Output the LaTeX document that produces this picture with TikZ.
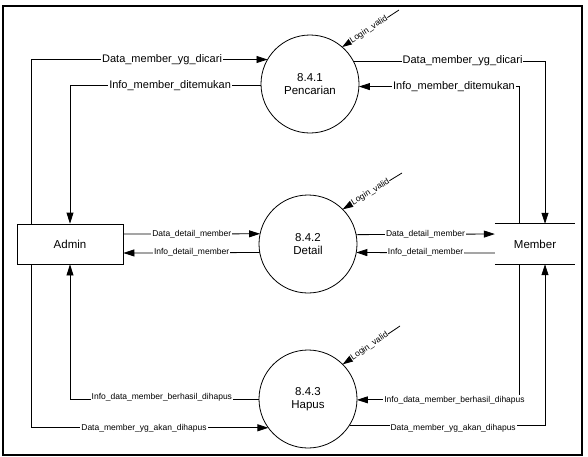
\documentclass[tikz,border=0pt]{standalone}
\usepackage{fontspec}
\setmainfont{Liberation Sans}
\usetikzlibrary{arrows.meta}

\tikzset{
  entity/.style={draw,line width=0.8pt,minimum width=106pt,minimum height=40pt,
    font=\fontsize{11.5}{13}\selectfont},
  store/.style={minimum width=80pt,minimum height=40pt,
    font=\fontsize{11.5}{13}\selectfont},
  proc/.style={circle,draw,line width=0.8pt,minimum size=98pt,inner sep=0pt,
    outer sep=0pt,align=center,font=\fontsize{11.5}{13.5}\selectfont},
  flow/.style={line width=0.8pt,-{Triangle[length=11pt,width=7pt]}},
  lbig/.style={fill=white,inner sep=1pt,font=\fontsize{11}{12}\selectfont},
  lsmall/.style={fill=white,inner sep=1pt,font=\fontsize{8.5}{10}\selectfont},
  llogin/.style={fill=white,inner sep=0.5pt,sloped,font=\fontsize{8.5}{10}\selectfont}
}

\begin{document}
\begin{tikzpicture}[x=1pt,y=-1pt]
\useasboundingbox (0,0) rectangle (588,456);
\draw[line width=1.5pt] (3,6) rectangle (582,455);

\node[entity] (admin) at (70,244) {Admin};
\node[store] (member) at (535,244) {Member};
\draw[line width=0.8pt] (member.north west) -- (member.north east)
  (member.south west) -- (member.south east);

\node[proc] (p1) at (310,84) {8.4.1\\Pencarian};
\node[proc] (p2) at (308,244) {8.4.2\\Detail};
\node[proc] (p3) at (308,399) {8.4.3\\Hapus};

% Login_valid
\coordinate (l1) at (399,10);
\coordinate (l2) at (402,173);
\coordinate (l3) at (400,326);
\draw[flow] (l1) -- node[llogin,pos=0.53] {Login\_valid} (p1.49.5);
\draw[flow] (l2) -- node[llogin,pos=0.53] {Login\_valid} (p2.45);
\draw[flow] (l3) -- node[llogin,pos=0.53] {Login\_valid} (p3.45);

% 8.4.1 Pencarian
\draw[flow] ([xshift=-39pt]admin.north) |- node[lbig,pos=0.777] {Data\_member\_yg\_dicari} (p1.150.7);
\draw[flow] (p1.182.3) -| node[lbig,pos=0.238] {Info\_member\_ditemukan} (admin.north);
\draw[flow] (p1.28) -| node[lbig,pos=0.285] {Data\_member\_yg\_dicari} ([xshift=10pt]member.north);
\draw[flow] ([xshift=-16pt]member.north) |- node[lbig,pos=0.703] {Info\_member\_ditemukan} (p1.357.7);

% 8.4.2 Detail
\draw[flow] ([yshift=10pt]admin.east) -- node[lsmall] {Data\_detail\_member} (p2.168.2);
\draw[flow] (p2.190.6) -- node[lsmall] {Info\_detail\_member} ([yshift=-9pt]admin.east);
\draw[flow] (p2.11.8) -- node[lsmall] {Data\_detail\_member} ([yshift=10pt]member.west);
\draw[flow] ([yshift=-9pt]member.west) -- node[lsmall] {Info\_detail\_member} (p2.-10.6);

% 8.4.3 Hapus
\draw[flow] (p3.180) -| node[lsmall,pos=0.257,yshift=2pt] {Info\_data\_member\_berhasil\_dihapus} (admin.south);
\draw[flow] ([xshift=-39pt]admin.south) |- node[lsmall,pos=0.738] {Data\_member\_yg\_akan\_dihapus} (p3.216.3);
\draw[flow] ([xshift=-16pt]member.south) |- node[lsmall,pos=0.699] {Info\_data\_member\_berhasil\_dihapus} (p3.-1.2);
\draw[flow] (p3.-32) -| node[lsmall,pos=0.265,yshift=-3pt] {Data\_member\_yg\_akan\_dihapus} ([xshift=10pt]member.south);
\end{tikzpicture}
\end{document}
